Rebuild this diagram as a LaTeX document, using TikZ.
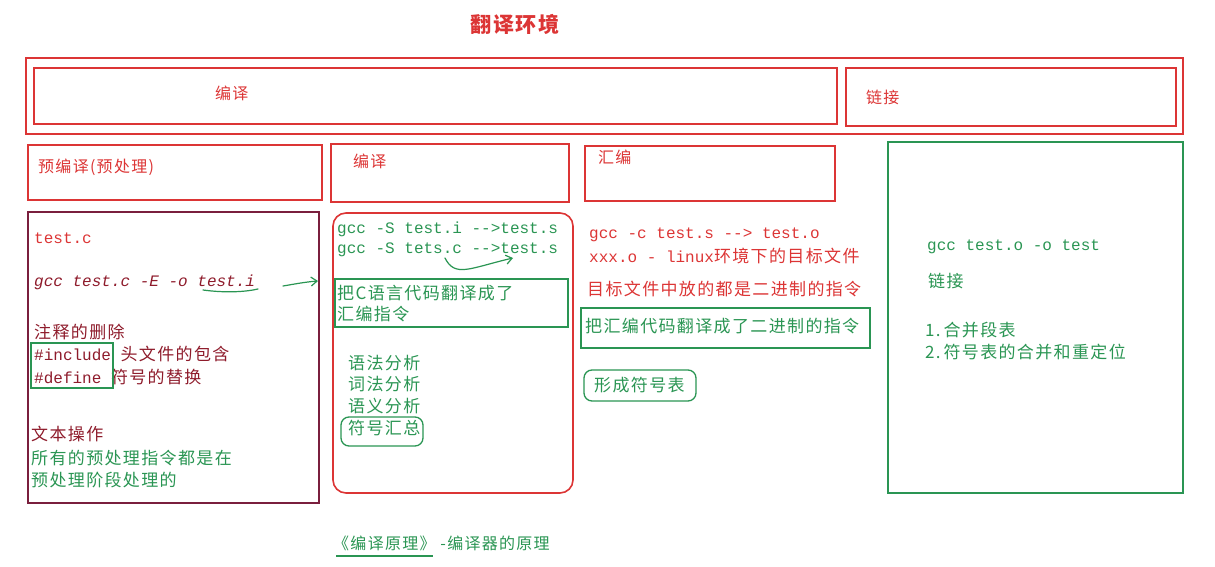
\documentclass[tikz,border=0pt]{standalone}
\usepackage{fontspec}
\newfontfamily\cjk[LetterSpace=8]{Noto Sans CJK SC}
\newfontfamily\mono{Liberation Mono}
\usetikzlibrary{arrows.meta}
\definecolor{rd}{HTML}{DC3535}
\definecolor{drd}{HTML}{8E1B2B}
\definecolor{mar}{HTML}{7A1F3D}
\definecolor{grn}{HTML}{2A9553}
\tikzset{
  box/.style={draw=#1, line width=1.6pt},
  txt/.style={anchor=west, inner sep=0pt, font=\mono\fontsize{16}{18}\selectfont},
  ctxt/.style={anchor=west, inner sep=0pt, font=\cjk\fontsize{17}{20}\selectfont},
  lbl/.style={anchor=west, inner sep=0pt, text=rd, font=\cjk\fontsize{16}{18}\selectfont},
  pen/.style={draw=grn, line width=1.2pt, line cap=round},
}
\begin{document}
\begin{tikzpicture}[x=1pt,y=-1pt]
\useasboundingbox (0,0) rectangle (1215,567);
% title
\node[anchor=center, inner sep=0pt, text=rd, font=\cjk\bfseries\fontsize{21}{24}\selectfont] (title) at (515,24) {翻译环境};
% top row
\draw[box=rd] (26,58) rectangle (1183,134);
\draw[box=rd] (34,68) rectangle (837,124);
\node[lbl] (tbianyi) at (215,93) {编译};
\draw[box=rd] (846,68) rectangle (1176,126);
\node[lbl] (tlianjie) at (866,97) {链接};
% second row headers
\draw[box=rd] (28,145) rectangle (322,200);
\node[lbl] (hpre) at (38,167) {预编译(预处理)};
\draw[box=rd] (331,144) rectangle (569,202);
\node[lbl] (hcomp) at (353,161) {编译};
\draw[box=rd] (585,146) rectangle (835,201);
\node[lbl] (hasm) at (598,157) {汇编};
% big boxes
\draw[box=mar] (28,212) rectangle (319,503);
\draw[box=rd, rounded corners=13pt] (333,213) rectangle (573,493);
\draw[box=grn] (888,142) rectangle (1183,493);
% preprocessing contents
\node[txt, text=rd] (tc) at (34,238) {test.c};
\node[txt, text=drd, font=\mono\itshape\fontsize{16}{18}\selectfont] (gccE) at (34,282) {gcc test.c -E -o test.i};
\draw[pen] (203,290) .. controls (225,293) and (245,292) .. (258,289);
\coordinate (ea) at (283,286);
\coordinate (eb) at (318,281);
\draw[pen, -{Straight Barb[length=6pt,width=9pt]}] (ea) .. controls (295,284) and (305,282) .. (eb);
\node[ctxt, text=drd] (zs) at (34,332) {注释的删除};
\node[anchor=west, inner sep=0pt, text=drd] (inc) at (34,354) {\mono\fontsize{16}{18}\selectfont\#include\ \cjk\fontsize{17}{20}\selectfont 头文件的包含};
\node[anchor=west, inner sep=0pt, text=drd] (def) at (34,377) {\mono\fontsize{16}{18}\selectfont\#define\ \cjk\fontsize{17}{20}\selectfont 符号的替换};
\draw[box=grn, line width=1.3pt] (31,343) rectangle (113,388);
\node[ctxt, text=drd] (wb) at (31,434) {文本操作};
\node[ctxt, text=grn] (sy1) at (31,458) {所有的预处理指令都是在};
\node[ctxt, text=grn] (sy2) at (31,480) {预处理阶段处理的};
% compile contents
\node[txt, text=grn] (gs1) at (337,229) {gcc -S test.i -->test.s};
\node[txt, text=grn] (gs2) at (337,250) {gcc -S tets.c -->test.s};
\coordinate (ca) at (445,258);
\coordinate (cb) at (513,258);
\draw[pen, -{Straight Barb[length=6pt,width=9pt]}] (ca) .. controls (455,278) and (470,268) .. (cb);
\draw[box=grn, line width=1.3pt] (335,279) rectangle (568,327);
\node[ctxt, text=grn] (bc1) at (337,293) {把C语言代码翻译成了};
\node[ctxt, text=grn] (bc2) at (337,314) {汇编指令};
\node[ctxt, text=grn] (yf) at (348,363) {语法分析};
\node[ctxt, text=grn] (cf) at (348,384) {词法分析};
\node[ctxt, text=grn] (yy) at (348,406) {语义分析};
\node[ctxt, text=grn] (fh) at (348,428) {符号汇总};
\draw[box=grn, line width=1.3pt, rounded corners=8pt] (341,417) rectangle (423,446);
% assembly contents
\node[txt, text=rd] (gc) at (589,235) {gcc -c test.s --> test.o};
\node[anchor=west, inner sep=0pt, text=rd] (xo) at (589,256) {\mono\fontsize{16}{18}\selectfont xxx.o - linux\cjk\fontsize{17}{20}\selectfont 环境下的目标文件};
\node[ctxt, text=rd] (mb) at (587,289) {目标文件中放的都是二进制的指令};
\draw[box=grn, line width=1.3pt] (581,308) rectangle (870,348);
\node[ctxt, text=grn] (bh) at (585,326) {把汇编代码翻译成了二进制的指令};
\draw[box=grn, line width=1.3pt, rounded corners=8pt] (584,370) rectangle (696,401);
\node[ctxt, text=grn] (xc) at (594,385) {形成符号表};
% link contents
\node[txt, text=grn] (gl) at (927,247) {gcc test.o -o test};
\node[ctxt, text=grn] (lj) at (928,281) {链接};
\node[ctxt, text=grn] (l1) at (925,330) {1.\,合并段表};
\node[ctxt, text=grn] (l2) at (925,352) {2.\,符号表的合并和重定位};
% bottom
\node[ctxt, text=grn, font=\cjk\fontsize{16}{20}\selectfont] (yl) at (333,543) {《编译原理》 -编译器的原理};
\draw[draw=grn, line width=1.3pt] (336,556) -- (433,556);
\end{tikzpicture}
\end{document}
